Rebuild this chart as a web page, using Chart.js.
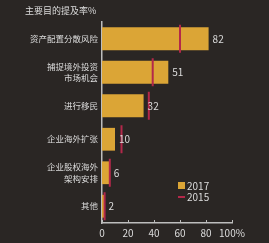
<!DOCTYPE html>
<html>
<head>
<meta charset="utf-8">
<script src="https://cdn.jsdelivr.net/npm/chart.js@4.4.1/dist/chart.umd.min.js"></script>
<style>
  html, body { margin: 0; padding: 0; background: #2a2624; }
  #wrap { width: 269px; height: 243px; }
</style>
</head>
<body>
<div id="wrap"><canvas id="purposeChart"></canvas></div>
<script>
// 主要目的 (categories) and the two survey years
var categories = [
  '资产配置分散风险',
  ['捕捉境外投资', '市场机会'],
  '进行移民',
  '企业海外扩张',
  ['企业股权海外', '架构安排'],
  '其他'
];
var values2017 = [82, 51, 32, 10, 6, 2];
var values2015 = [60, 39, 36, 15, 6, 2];
var xTicks = [0, 20, 40, 60, 80, 100];

var FONT = '"Noto Sans CJK SC", "DejaVu Sans", sans-serif';
var TEXT = '#dcdcdc';
var GOLD = '#dba536';
var RED = '#b3284a';

// title, value labels, tick marks and legend
var extras = {
  id: 'extras',
  afterDatasetsDraw: function (chart) {
    var ctx = chart.ctx;
    ctx.save();
    ctx.fillStyle = TEXT;
    ctx.textBaseline = 'middle';

    // title
    ctx.font = '9px ' + FONT;
    ctx.textAlign = 'left';
    ctx.fillText('主要目的提及率%', 25, 11);

    // value labels next to bars
    ctx.font = '10px ' + FONT;
    chart.getDatasetMeta(0).data.forEach(function (bar, i) {
      ctx.fillText(values2017[i], bar.x + 4, bar.y);
    });

    // small upward tick marks on the x axis
    var xs = chart.scales.x;
    ctx.strokeStyle = '#bdbdbd';
    ctx.lineWidth = 1;
    xTicks.forEach(function (v) {
      var px = Math.round(xs.getPixelForValue(v)) + 0.5;
      ctx.beginPath();
      ctx.moveTo(px, xs.top);
      ctx.lineTo(px, xs.top - 3);
      ctx.stroke();
    });

    // legend
    ctx.font = '10px ' + FONT;
    ctx.fillStyle = GOLD;
    ctx.fillRect(178, 182, 7, 7);
    ctx.fillStyle = TEXT;
    ctx.fillText(chart.data.datasets[0].label, 187, 186);
    ctx.strokeStyle = RED;
    ctx.lineWidth = 2;
    ctx.beginPath();
    ctx.moveTo(178, 197);
    ctx.lineTo(185, 197);
    ctx.stroke();
    ctx.fillText(chart.data.datasets[1].label, 187, 197);
    ctx.restore();
  }
};

var ctx = document.getElementById('purposeChart').getContext('2d');
var purposeChart = new Chart(ctx, {
  type: 'bar',
  data: {
    labels: categories,
    datasets: [{
      label: '2017',
      data: values2017,
      backgroundColor: GOLD,
      categoryPercentage: 1,
      barPercentage: 0.68,
      order: 2
    }, {
      type: 'line',
      label: '2015',
      data: values2015,
      indexAxis: 'y',
      showLine: false,
      pointStyle: 'line',
      rotation: 90,
      pointRadius: 14,
      pointHoverRadius: 14,
      borderColor: RED,
      backgroundColor: RED,
      pointBorderWidth: 2,
      order: 1
    }]
  },
  options: {
    indexAxis: 'y',
    responsive: true,
    maintainAspectRatio: false,
    animation: false,
    layout: { padding: { top: 22, right: 37, left: 0, bottom: 0 } },
    scales: {
      x: {
        min: 0,
        max: 100,
        afterBuildTicks: function (scale) {
          scale.ticks = xTicks.map(function (v) { return { value: v }; });
        },
        grid: { display: false, drawTicks: false },
        border: { display: true, color: '#bdbdbd', width: 1.5 },
        ticks: {
          color: TEXT,
          padding: 4,
          autoSkip: false,
          maxRotation: 0,
          font: { family: FONT, size: 10 },
          callback: function (v) { return v === 100 ? '100%' : v; }
        }
      },
      y: {
        afterFit: function (scale) { scale.width = 102; },
        grid: { display: false, drawTicks: false },
        border: { display: true, color: '#bdbdbd', width: 1.5 },
        ticks: {
          color: TEXT,
          padding: 4,
          font: { family: FONT, size: 8.5, lineHeight: 1.4 }
        }
      }
    },
    plugins: {
      legend: { display: false },
      tooltip: { enabled: false }
    }
  },
  plugins: [extras]
});
</script>
</body>
</html>
